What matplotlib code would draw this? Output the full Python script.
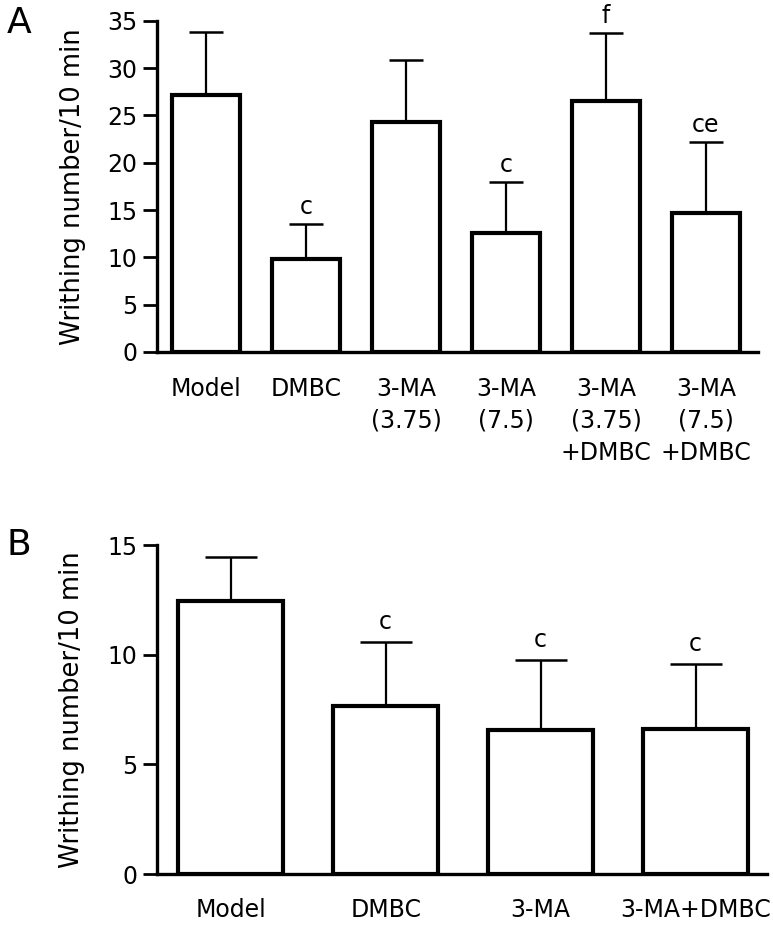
import matplotlib
matplotlib.use('Agg')
import matplotlib.pyplot as plt
import numpy as np

plt.rcParams['font.family'] = ['DejaVu Sans']

# panel A
cats_a = ['Model', 'DMBC', '3-MA\n(3.75)', '3-MA\n(7.5)', '3-MA\n(3.75)\n+DMBC', '3-MA\n(7.5)\n+DMBC']
mean_a = [27.2, 9.8, 24.3, 12.6, 26.5, 14.7]
sd_a = [6.6, 3.7, 6.5, 5.4, 7.2, 7.5]
sig_a = ['', 'c', '', 'c', 'f', 'ce']

# panel B
cats_b = ['Model', 'DMBC', '3-MA', '3-MA+DMBC']
mean_b = [12.45, 7.66, 6.57, 6.61]
sd_b = [2.0, 2.9, 3.2, 2.97]
sig_b = ['', 'c', 'c', 'c']

fig = plt.figure(figsize=(7.73, 9.25), dpi=100)


def panel(rect, cats, mean, sd, sig, ymax, step, xlim, capsize, letter_off, xpad):
    ax = fig.add_axes(rect)
    x = np.arange(len(cats))
    ax.errorbar(x, mean, yerr=[np.zeros(len(sd)), sd], fmt='none', ecolor='black',
                elinewidth=1.6, capsize=capsize, capthick=1.8, zorder=1)
    ax.bar(x, mean, width=0.68, color='white', edgecolor='black', linewidth=3.0, zorder=2)
    for xi, m, s, t in zip(x, mean, sd, sig):
        if t:
            ax.text(xi, m + s + letter_off, t, ha='center', va='baseline', fontsize=17)
    ax.set_xlim(*xlim)
    ax.set_ylim(0, ymax)
    ax.set_yticks(np.arange(0, ymax + 0.1, step))
    ax.set_xticks(x)
    ax.set_xticklabels(cats, fontsize=17, linespacing=1.42)
    ax.spines['top'].set_visible(False)
    ax.spines['right'].set_visible(False)
    ax.spines['left'].set_linewidth(2.4)
    ax.spines['bottom'].set_linewidth(2.4)
    ax.tick_params(axis='y', length=10, width=2, labelsize=17, pad=4)
    ax.tick_params(axis='x', length=0, pad=xpad)
    ax.set_ylabel('Writhing number/10 min', fontsize=18.5)
    ax.yaxis.set_label_coords(-0.118, 0.5)
    return ax


ax1 = panel([0.203, 0.6195, 0.7776, 0.3581], cats_a, mean_a, sd_a, sig_a,
            35, 5, (-0.49, 5.52), 12.5, 1.05, 18)
ax2 = panel([0.203, 0.0551, 0.789, 0.3557], cats_b, mean_b, sd_b, sig_b,
            15, 5, (-0.477, 3.46), 19, 0.6, 17)

fig.text(0.009, 0.993, 'A', fontsize=26, va='top')
fig.text(0.009, 0.429, 'B', fontsize=26, va='top')

fig.savefig('out.png', dpi=100)
